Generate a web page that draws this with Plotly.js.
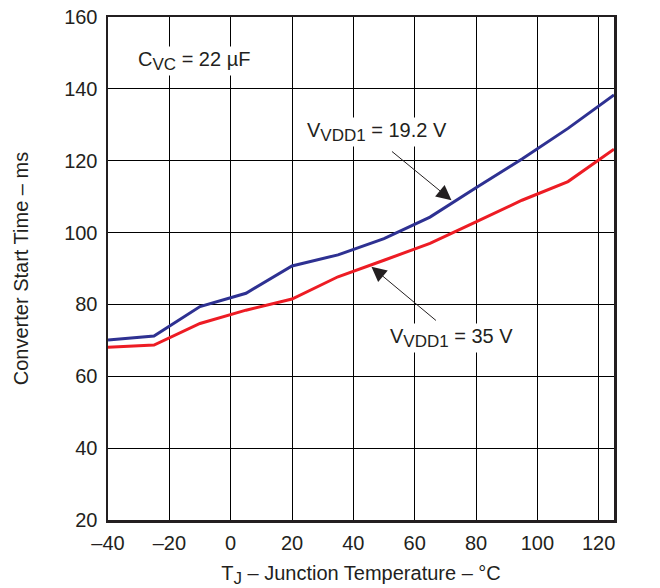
<!DOCTYPE html>
<html>
<head>
<meta charset="utf-8">
<script src="https://cdn.plot.ly/plotly-3.0.1.min.js"></script>
<style>html,body{margin:0;padding:0;background:#fff;}#chart{width:660px;height:588px;}</style>
</head>
<body>
<div id="chart"></div>
<script>
const temperature = [-40, -25, -10, 5, 20, 35, 50, 65, 80, 95, 110, 125];
const startTime192V = [70.1, 71.2, 79.4, 83.1, 90.7, 93.8, 98.3, 104.3, 112.5, 120.5, 129.0, 138.3];
const startTime35V = [68.1, 68.7, 74.7, 78.4, 81.5, 87.7, 92.3, 97.0, 103.0, 109.0, 114.2, 123.2];
const xTicks = [-40, -20, 0, 20, 40, 60, 80, 100, 120];
const yTicks = [20, 40, 60, 80, 100, 120, 140, 160];

const textColor = '#231f20';
const fontFamily = 'Liberation Sans, Arial, sans-serif';
const sub = s => '<sub><span style="font-size:17px">' + s + '</span></sub>';

const traces = [
  {x: temperature, y: startTime192V, mode: 'lines', name: 'VVDD1 = 19.2 V',
   line: {color: '#2e3192', width: 3}},
  {x: temperature, y: startTime35V, mode: 'lines', name: 'VVDD1 = 35 V',
   line: {color: '#ed1c24', width: 3}}
];

const layout = {
  width: 660, height: 588,
  margin: {l: 108, r: 46, t: 17, b: 68},
  paper_bgcolor: '#fff', plot_bgcolor: '#fff',
  showlegend: false,
  font: {family: fontFamily, color: textColor, size: 20},
  xaxis: {
    range: [-40, 125], tickvals: xTicks, ticktext: xTicks.map(v => v < 0 ? '\u2013' + Math.abs(v) : String(v)),
    showgrid: true, gridcolor: '#000', gridwidth: 1, zeroline: false,
    showline: true, mirror: true, linecolor: textColor, linewidth: 2.5,
    ticks: '', ticklabelstandoff: 3, tickfont: {size: 20, color: textColor},
    title: {text: 'T' + sub('J') + ' \u2013 Junction Temperature \u2013 \u00b0C', font: {size: 20, color: textColor}, standoff: 15}
  },
  yaxis: {
    range: [20, 160], tickvals: yTicks,
    showgrid: true, gridcolor: '#000', gridwidth: 1, zeroline: false,
    showline: true, mirror: true, linecolor: textColor, linewidth: 2.5,
    ticks: '', ticklabelstandoff: 4, tickfont: {size: 20, color: textColor},
    title: {text: 'Converter Start Time \u2013 ms', font: {size: 20, color: textColor}, standoff: 30}
  },
  annotations: [
    {x: -12, y: 147.7, xref: 'x', yref: 'y', showarrow: false, bgcolor: '#fff',
     text: 'C' + sub('VC') + ' = 22 \u00b5F', font: {size: 20, color: textColor}},
    {x: 47.7, y: 128, xref: 'x', yref: 'y', showarrow: false, bgcolor: '#fff',
     text: 'V' + sub('VDD1') + ' = 19.2 V', font: {size: 20, color: textColor}},
    {x: 72, y: 70.7, xref: 'x', yref: 'y', showarrow: false, bgcolor: '#fff',
     text: 'V' + sub('VDD1') + ' = 35 V', font: {size: 20, color: textColor}},
    {x: 72, y: 109, xref: 'x', yref: 'y', text: '', showarrow: true,
     ax: -61, ay: -50, arrowhead: 2, arrowsize: 3, arrowwidth: 1, arrowcolor: textColor},
    {x: 45.9, y: 90.5, xref: 'x', yref: 'y', text: '', showarrow: true,
     ax: 66, ay: 55, arrowhead: 2, arrowsize: 3, arrowwidth: 1, arrowcolor: textColor}
  ]
};

Plotly.newPlot('chart', traces, layout, {displayModeBar: false, staticPlot: true});
</script>
</body>
</html>
